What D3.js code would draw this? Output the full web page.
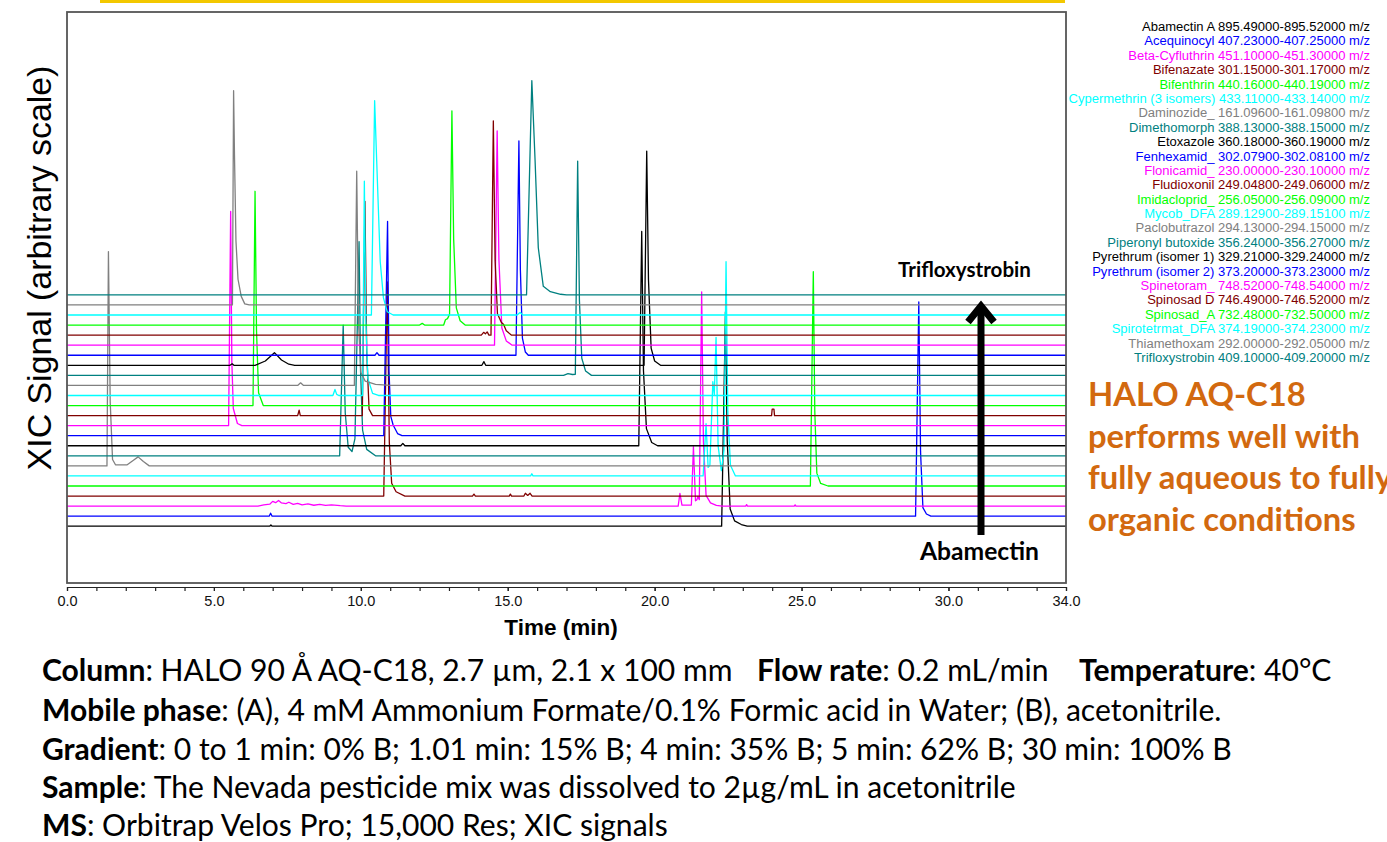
<!DOCTYPE html>
<html>
<head>
<meta charset="utf-8">
<script src="https://cdn.jsdelivr.net/npm/d3@7"></script>
<style>
  html, body { margin: 0; padding: 0; background: #fff; }
  svg { display: block; }
</style>
</head>
<body>
<svg width="1387" height="842"></svg>
<script>
// compound names and extraction windows, in legend order (bottom trace first)
var compounds = ['Abamectin A', 'Acequinocyl', 'Beta-Cyfluthrin', 'Bifenazate', 'Bifenthrin',
    'Cypermethrin (3 isomers)', 'Daminozide_', 'Dimethomorph', 'Etoxazole', 'Fenhexamid_',
    'Flonicamid_', 'Fludioxonil', 'Imidacloprid_', 'Mycob_DFA', 'Paclobutrazol',
    'Piperonyl butoxide', 'Pyrethrum (isomer 1)', 'Pyrethrum (isomer 2)', 'Spinetoram_',
    'Spinosad D', 'Spinosad_A', 'Spirotetrmat_DFA', 'Thiamethoxam', 'Trifloxystrobin'];

var mzRanges = ['895.49000-895.52000', '407.23000-407.25000', '451.10000-451.30000',
    '301.15000-301.17000', '440.16000-440.19000', '433.11000-433.14000', '161.09600-161.09800',
    '388.13000-388.15000', '360.18000-360.19000', '302.07900-302.08100', '230.00000-230.10000',
    '249.04800-249.06000', '256.05000-256.09000', '289.12900-289.15100', '294.13000-294.15000',
    '356.24000-356.27000', '329.21000-329.24000', '373.20000-373.23000', '748.52000-748.54000',
    '746.49000-746.52000', '732.48000-732.50000', '374.19000-374.23000', '292.00000-292.05000',
    '409.10000-409.20000'];

var traceColors = ['#000000', '#0000ff', '#ff00ff', '#800000', '#00ff00', '#00ffff', '#808080', '#008080'];

// XIC traces: [time (min), relative signal %]
var abamectinA = [[6.9, 0], [6.94, 0.6], [6.98, 0], [22.28, 0], [22.41, 100], [22.47, 40], [22.57, 8],
    [22.72, 2.5], [22.95, 0.8], [23.15, 0]];
var acequinocyl = [[6.88, 0], [6.93, 1.4], [6.98, 0], [28.88, 0], [28.99, 100], [29.05, 30], [29.13, 4],
    [29.25, 1], [29.4, 0]];
var betaCyfluthrin = [[6.5, 0], [6.7, 0.6], [6.9, 0.9], [7.0, 2.2], [7.1, 1.6], [7.2, 2.6], [7.3, 1.5],
    [7.45, 1.2], [7.55, 1.8], [7.7, 0.8], [7.85, 1.3], [8.0, 0.6], [8.2, 1], [8.4, 0.4], [8.6, 0.8],
    [8.8, 0.3], [9.0, 0.6], [9.3, 0.2], [9.5, 0], [20.8, 0], [20.86, 5.9], [20.93, 0.5], [21.25, 0.5],
    [21.32, 27.7], [21.39, 2.5], [21.44, 3], [21.47, 4.5], [21.52, 3], [21.6, 100], [21.66, 30],
    [21.75, 5], [21.9, 1.5], [22.1, 0.3], [22.3, 0], [23.1, 0], [23.13, 0.7], [23.16, 0],
    [24.75, 0], [24.78, 0.6], [24.81, 0]];
var bifenazate = [[10.78, 0], [10.9, 100], [10.97, 25], [11.05, 6], [11.2, 2], [11.5, 0], [13.8, 0],
    [13.85, 0.9], [13.9, 0], [15.05, 0], [15.09, 0.9], [15.13, 0], [15.55, 0], [15.6, 1.3],
    [15.68, 0.3], [15.76, 1.3], [15.83, 0]];
var bifenthrin = [[25.3, 0], [25.4, 100], [25.45, 35], [25.52, 6], [25.65, 1.2], [25.9, 0]];
var cypermethrin = [[15.78, 0], [15.82, 1], [15.86, 0], [21.65, 0], [21.75, 24.4], [21.82, 4],
    [21.88, 5], [21.98, 44], [22.03, 38], [22.09, 64.7], [22.16, 14], [22.27, 2.5], [22.36, 12],
    [22.43, 100], [22.49, 30], [22.58, 5], [22.75, 0]];
var daminozide = [[1.36, 0], [1.41, 100], [1.47, 30], [1.55, 3], [1.65, 0.5], [2.05, 0.5], [2.25, 2.5],
    [2.42, 4.2], [2.6, 2], [2.8, 0]];
var dimethomorph = [[9.28, 0], [9.4, 61], [9.47, 20], [9.57, 4], [9.7, 2], [9.8, 8], [9.94, 100],
    [9.99, 40], [10.06, 12], [10.2, 3], [10.5, 0]];
var etoxazole = [[11.36, 0], [11.43, 1.1], [11.5, 0], [19.46, 0], [19.56, 100], [19.62, 35], [19.72, 8],
    [19.9, 1.5], [20.1, 0]];
var fenhexamid = [[10.78, 0], [10.91, 100], [10.96, 30], [11.02, 9], [11.1, 5], [11.25, 1], [11.4, 0]];
var flonicamid = [[5.5, 0], [5.57, 100], [5.61, 30], [5.66, 8], [5.8, 1], [5.95, 0]];
var fludioxonil = [[7.85, 0], [7.9, 2.5], [7.94, 0], [10.05, 0], [10.14, 100], [10.2, 30], [10.28, 3],
    [10.4, 0], [23.98, 0], [24.0, 3], [24.06, 3], [24.08, 0]];
var imidacloprid = [[6.33, 0], [6.4, 100], [6.45, 35], [6.52, 6], [6.68, 0]];
var mycobDFA = [[9.05, 0], [9.12, 2.8], [9.18, 0.5], [9.25, 0], [10.06, 0], [10.12, 100], [10.17, 35],
    [10.24, 8], [10.4, 1], [10.6, 0]];
var paclobutrazol = [[7.85, 0], [7.95, 1.2], [8.05, 0], [9.78, 0], [9.86, 100], [9.92, 30], [10.0, 6],
    [10.15, 2], [10.5, 0.5], [11.0, 0]];
var piperonylButoxide = [[16.9, 0], [17.05, 0.8], [17.2, 0.4], [17.3, 0.5], [17.38, 100], [17.44, 35],
    [17.52, 8], [17.65, 2], [17.85, 0]];
var pyrethrum1 = [[5.55, 0], [5.62, 0.7], [5.68, 0], [6.4, 0], [6.75, 2], [7.06, 5.9], [7.3, 2.5],
    [7.55, 0.5], [7.75, 0], [14.12, 0], [14.19, 1.7], [14.25, 0], [19.64, 0], [19.73, 100],
    [19.79, 40], [19.88, 8], [20.0, 2], [20.2, 0]];
var pyrethrum2 = [[10.48, 0], [10.55, 1.2], [10.62, 0], [15.28, 0], [15.38, 100], [15.43, 40],
    [15.5, 8], [15.6, 1.5], [15.7, 0]];
var spinetoram = [[14.55, 0], [14.64, 100], [14.7, 40], [14.8, 8], [14.95, 2], [15.15, 0]];
var spinosadD = [[14.1, 0], [14.18, 1.3], [14.24, 0.6], [14.3, 1.5], [14.36, 0], [14.43, 0],
    [14.51, 100], [14.57, 35], [14.65, 10], [14.78, 6], [14.86, 5], [14.95, 2], [15.13, 0]];
var spinosadA = [[12.0, 0], [12.09, 0.8], [12.17, 0], [12.82, 0], [12.88, 2.5], [12.95, 3], [13.02, 5],
    [13.1, 100], [13.16, 40], [13.25, 8], [13.38, 2], [13.55, 0]];
var spirotetrmatDFA = [[10.36, 0], [10.47, 100], [10.54, 72], [10.66, 25], [10.77, 8], [10.9, 1.5],
    [11.1, 0], [15.32, 0], [15.42, 1.2], [15.52, 0]];
var thiamethoxam = [[5.63, 0], [5.67, 100], [5.7, 70], [5.75, 30], [5.82, 12], [5.93, 4], [6.05, 0.5],
    [6.2, 0]];
var trifloxystrobin = [[15.64, 0], [15.82, 100], [15.93, 63], [16.04, 22], [16.21, 4], [16.45, 1.5],
    [16.8, 0.3], [17.0, 0]];

var traces = [abamectinA, acequinocyl, betaCyfluthrin, bifenazate, bifenthrin, cypermethrin,
    daminozide, dimethomorph, etoxazole, fenhexamid, flonicamid, fludioxonil, imidacloprid,
    mycobDFA, paclobutrazol, piperonylButoxide, pyrethrum1, pyrethrum2, spinetoram, spinosadD,
    spinosadA, spirotetrmatDFA, thiamethoxam, trifloxystrobin];

var majorTicks = [0, 5, 10, 15, 20, 25, 30, 34];
var minorTicks = d3.range(0, 35, 1);
var offsetStep = 4.694; // stacking offset between traces, in % units

var noteLines = [
    [['Mobile phase', true], [': (A), 4 mM Ammonium Formate/0.1% Formic acid in Water; (B), acetonitrile.', false]],
    [['Gradient', true], [': 0 to 1 min: 0% B; 1.01 min: 15% B; 4 min: 35% B; 5 min: 62% B; 30 min: 100% B', false]],
    [['Sample', true], [': The Nevada pesticide mix was dissolved to 2µg/mL in acetonitrile', false]],
    [['MS', true], [': Orbitrap Velos Pro; 15,000 Res; XIC signals', false]]
];
var firstLine = [
    [['Column', true], [': HALO 90 Å AQ-C18, 2.7 µm, 2.1 x 100 mm', false]],
    [['Flow rate', true], [': 0.2 mL/min', false]],
    [['Temperature', true], [': 40°C', false]]
];
var calloutLines = ['HALO AQ-C18', 'performs well with', 'fully aqueous to fully', 'organic conditions'];

var svg = d3.select('svg'),
    plotL = 67, plotR = 1066, plotT = 12, plotB = 583;

var x = d3.scaleLinear().domain([0, 34]).range([plotL, plotR]);
var y = d3.scaleLinear().domain([-26.5, 240]).range([plotB, plotT]);

function fit(sel, target) {
    var w = sel.node().getComputedTextLength(),
        fs = parseFloat(sel.attr('font-size'));
    sel.attr('font-size', fs * target / w);
    return fs * target / w;
}

// yellow rule at the very top
svg.append('rect').attr('x', 100).attr('y', 0).attr('width', 965).attr('height', 3).attr('fill', '#f3c800');

// traces
for (var i = 0; i < traces.length; i++) {
    var pts = [[0, 0]].concat(traces[i], [[34, 0]]),
        off = i * offsetStep;
    var line = d3.line()
        .x(function (d) { return x(d[0]); })
        .y(function (d) { return y(d[1] + off); });
    svg.append('path')
        .attr('d', line(pts))
        .attr('fill', 'none')
        .attr('stroke', traceColors[i % 8])
        .attr('stroke-width', 1.3)
        .attr('stroke-linejoin', 'round');
}

// frame
svg.append('rect')
    .attr('x', plotL).attr('y', plotT)
    .attr('width', plotR - plotL).attr('height', plotB - plotT)
    .attr('fill', 'none').attr('stroke', '#555').attr('stroke-width', 1.8);

// x axis
var axisG = svg.append('g').attr('transform', 'translate(0,587)');
axisG.append('g').call(d3.axisBottom(x).tickValues(minorTicks).tickSize(4).tickSizeOuter(0).tickFormat(''));
axisG.append('g').call(d3.axisBottom(x).tickValues(majorTicks).tickSize(4).tickSizeOuter(0).tickFormat(d3.format('.1f')));
axisG.selectAll('path, line').attr('stroke', '#222').attr('stroke-width', 1.2);
axisG.selectAll('text')
    .attr('font-family', 'Liberation Sans, Arial, sans-serif')
    .attr('font-size', 14.5)
    .attr('fill', '#111')
    .attr('dy', '0.85em');

svg.append('text')
    .attr('x', 561).attr('y', 635)
    .attr('text-anchor', 'middle')
    .attr('font-family', 'Liberation Sans, Arial, sans-serif')
    .attr('font-weight', 'bold')
    .attr('font-size', 22.5)
    .text('Time (min)');

// y label
var yl = svg.append('text')
    .attr('transform', 'translate(51,268) rotate(-90)')
    .attr('text-anchor', 'middle')
    .attr('font-family', 'Liberation Sans, Arial, sans-serif')
    .attr('font-size', 30)
    .text('XIC Signal (arbitrary scale)');
fit(yl, 405);

// legend
var legFont = 'Liberation Sans, Arial, sans-serif';
var probe = svg.append('text').attr('font-family', legFont).attr('font-size', 12)
    .text(compounds[5] + ' ' + mzRanges[5] + ' m/z');
var legSize = fit(probe, 302);
probe.remove();
for (var k = 0; k < compounds.length; k++) {
    svg.append('text')
        .attr('x', 1370).attr('y', 31 + k * 14.39)
        .attr('text-anchor', 'end')
        .attr('font-family', legFont)
        .attr('font-size', legSize)
        .attr('fill', traceColors[k % 8])
        .text(compounds[k] + ' ' + mzRanges[k] + ' m/z');
}

// arrow with labels
svg.append('line').attr('x1', 981).attr('x2', 981).attr('y1', 535).attr('y2', 305)
    .attr('stroke', '#000').attr('stroke-width', 7);
svg.append('polyline').attr('points', '968,322 981,306 994,322')
    .attr('fill', 'none').attr('stroke', '#000').attr('stroke-width', 7);

var bodyFont = 'Lato, Carlito, Calibri, sans-serif';
var lab1 = svg.append('text').attr('x', 898).attr('y', 277)
    .attr('font-family', bodyFont).attr('font-weight', 'bold').attr('font-size', 22)
    .text('Trifloxystrobin');
fit(lab1, 133);
var lab2 = svg.append('text').attr('x', 920).attr('y', 560)
    .attr('font-family', bodyFont).attr('font-weight', 'bold').attr('font-size', 22)
    .text('Abamectin');
fit(lab2, 119);

// orange call-out
var co = svg.append('text').attr('font-family', bodyFont).attr('font-weight', 'bold')
    .attr('font-size', 26).text(calloutLines[1]);
var coSize = fit(co, 272);
co.remove();
calloutLines.forEach(function (s, j) {
    svg.append('text')
        .attr('x', 1088).attr('y', 406 + j * 41.7)
        .attr('font-family', bodyFont).attr('font-weight', 'bold')
        .attr('font-size', coSize).attr('fill', '#d2690f')
        .text(s);
});

// method notes
function addRich(xp, yp, parts, size) {
    var t = svg.append('text').attr('x', xp).attr('y', yp)
        .attr('font-family', bodyFont).attr('font-size', size).attr('fill', '#000');
    parts.forEach(function (p) {
        t.append('tspan').attr('font-weight', p[1] ? 'bold' : 'normal').text(p[0]);
    });
    return t;
}
var m = addRich(42, 0, noteLines[0], 22);
var w0 = m.node().getComputedTextLength();
m.remove();
var noteSize = 22 * 1180 / w0;
var firstX = [42, 757, 1079];
firstLine.forEach(function (parts, j) {
    addRich(firstX[j], 681, parts, noteSize);
});
var noteY = [721, 760, 798, 836];
noteLines.forEach(function (parts, j) {
    addRich(42, noteY[j], parts, noteSize);
});
</script>
</body>
</html>
